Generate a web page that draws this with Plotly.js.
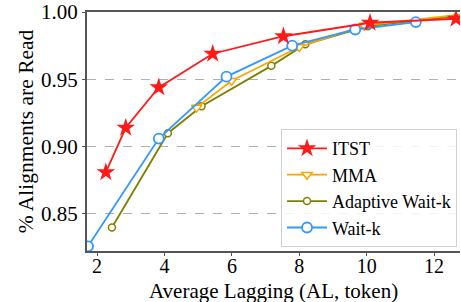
<!DOCTYPE html>
<html><head><meta charset="utf-8">
<script src="https://cdn.plot.ly/plotly-3.0.1.min.js"></script>
<style>body{margin:0;padding:0;background:#fff}#c{width:461px;height:302px}</style>
</head><body><div id="c"></div>
<script>
const itstX = [2.26, 2.85, 3.83, 5.43, 7.53, 10.10, 12.65];
const itstY = [0.881, 0.914, 0.944, 0.969, 0.982, 0.992, 0.995];
const mmaX = [4.95, 5.99, 8.0, 9.93, 13.1];
const mmaY = [0.929, 0.949, 0.974, 0.990, 0.999];
const awkX = [2.44, 4.10, 5.10, 7.17, 8.18, 10.04, 13.1];
const awkY = [0.840, 0.910, 0.930, 0.960, 0.976, 0.9895, 0.998];
const wkX = [1.73, 3.83, 5.84, 7.79, 9.66, 11.46];
const wkY = [0.826, 0.906, 0.952, 0.975, 0.987, 0.9925];
const xTicks = [2, 4, 6, 8, 10, 12];
const yTicks = [0.85, 0.90, 0.95, 1.00];
const xTitle = 'Average Lagging (AL, token)';
const yTitle = '% Alignments are Read';

const font = "Times New Roman";
const traces = [
  {x: awkX, y: awkY, name: 'Adaptive Wait-k', mode: 'lines+markers', legendrank: 3,
   line: {color: '#808000', width: 1.8},
   marker: {symbol: 'circle', size: 7, color: '#ffffff', line: {color: '#808000', width: 1.5}}},
  {x: mmaX, y: mmaY, name: 'MMA', mode: 'lines+markers', legendrank: 2,
   line: {color: '#ffa500', width: 1.8},
   marker: {symbol: 'triangle-down', size: 9, color: '#ffffff', line: {color: '#ffa500', width: 1.5}}},
  {x: wkX, y: wkY, name: 'Wait-k', mode: 'lines+markers', legendrank: 4,
   line: {color: '#3399ff', width: 1.8},
   marker: {symbol: 'circle', size: 10, color: '#ffffff', line: {color: '#3399ff', width: 1.8}}},
  {x: itstX, y: itstY, name: 'ITST', mode: 'lines+markers', legendrank: 1,
   line: {color: '#ff1a1a', width: 1.8},
   marker: {symbol: 'star', size: 14, color: '#ff1a1a', line: {width: 0}}}
];
const layout = {
  width: 461, height: 302,
  margin: {l: 87, r: 1, t: 12, b: 51},
  paper_bgcolor: '#ffffff', plot_bgcolor: '#ffffff',
  font: {family: font, color: '#000'},
  showlegend: true,
  legend: {x: 0.992, y: 0.51, xanchor: 'right', yanchor: 'top',
    bgcolor: 'rgba(255,255,255,0.85)', bordercolor: '#d0d0d0', borderwidth: 1,
    font: {family: font, size: 18, color: '#000'}, tracegroupgap: 0, itemwidth: 40},
  xaxis: {range: [1.7, 12.77], tickvals: xTicks, ticktext: xTicks.map(String),
    showgrid: false, zeroline: false, showline: true, linecolor: '#555', linewidth: 2,
    mirror: true, ticks: 'outside', ticklen: 3, tickcolor: '#555', ticklabelstandoff: -7,
    tickfont: {family: font, size: 20}},
  yaxis: {range: [0.8225, 1.0], tickvals: yTicks, ticktext: yTicks.map(v => v.toFixed(2)),
    showgrid: true, gridcolor: '#b0b0b0', griddash: 'dash', gridwidth: 1,
    zeroline: false, showline: true, linecolor: '#555', linewidth: 2,
    ticks: 'outside', ticklen: 3, tickcolor: '#555',
    tickfont: {family: font, size: 21},
    title: {text: yTitle, font: {family: font, size: 21.5}}},
  annotations: [{text: xTitle, xref: 'paper', yref: 'paper', x: 0.5, y: -0.108, xanchor: 'center', yanchor: 'top',
    showarrow: false, font: {family: font, size: 21}}]
};
Plotly.newPlot('c', traces, layout, {displayModeBar: false, staticPlot: true});
</script></body></html>
